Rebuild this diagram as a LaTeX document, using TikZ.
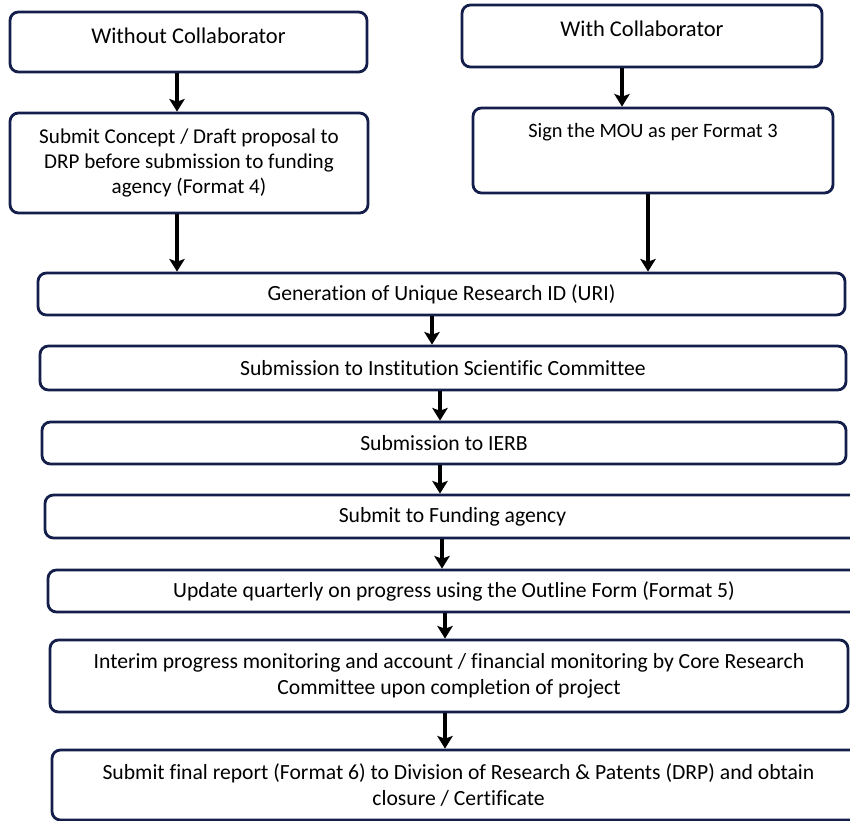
\documentclass[tikz,border=0pt]{standalone}
\usepackage{fontspec}
\setmainfont[Ligatures={NoCommon}]{Carlito}
\usepackage{tikz}
\usetikzlibrary{arrows.meta, positioning}
\definecolor{boxblue}{RGB}{20, 30, 75}
\newcommand{\pu}{0.025cm}

\begin{document}
\begin{tikzpicture}[x=0.025cm, y=-0.025cm, >={Stealth[length=9pt, width=11pt, inset=2pt]},
    box/.style={draw=boxblue, line width=2pt, rounded corners=6pt, fill=white, align=center, inner sep=0pt, font=\fontsize{15.4}{18.5}\selectfont},
    arr/.style={->, line width=2.2pt, black}]
    \clip (0,0) rectangle (850,821);
    \fill[white] (0,0) rectangle (850,821);

    % 两种情况
    \node[box, font=\fontsize{16}{18.5}\selectfont, anchor=base, minimum width=357*\pu, text height=32*\pu, text depth=28*\pu] (wo) at (188.5,44) {Without Collaborator};
    \node[box, font=\fontsize{16}{18.5}\selectfont, anchor=base, minimum width=360*\pu, text height=32*\pu, text depth=30*\pu] (wi) at (642,37) {With Collaborator};
    \node[box, font=\fontsize{15}{18}\selectfont, minimum width=358*\pu, minimum height=100*\pu] (concept) at (189,163)
        {Submit Concept / Draft proposal to\\ DRP before submission to funding\\ agency (Format 4)};
    \node[box, font=\fontsize{14.5}{18}\selectfont, anchor=base, minimum width=360*\pu, text height=30*\pu, text depth=55*\pu] (mou) at (653,138)
        {Sign the MOU as per Format 3};

    % 主流程
    \node[box, minimum width=807*\pu, minimum height=42*\pu] (uri) at (441.5,294) {Generation of Unique Research ID (URI)};
    \node[box, minimum width=806*\pu, minimum height=44*\pu] (isc) at (443,368) {Submission to Institution Scientific Committee};
    \node[box, minimum width=804*\pu, minimum height=42*\pu] (ierb) at (444,443) {Submission to IERB};
    \node[box, minimum width=815*\pu, minimum height=43*\pu] (fund) at (452.5,516.5) {Submit to Funding agency};
    \node[box, minimum width=812*\pu, minimum height=42*\pu] (upd) at (454,591) {Update quarterly on progress using the Outline Form (Format 5)};
    \node[box, minimum width=798*\pu, minimum height=72*\pu] (int) at (449,676)
        {Interim progress monitoring and account / financial monitoring by Core Research\\ Committee upon completion of project};
    \node[box, minimum width=813*\pu, minimum height=70*\pu] (fin) at (458.5,785)
        {Submit final report (Format 6) to Division of Research \& Patents (DRP) and obtain\\ closure / Certificate};

    % 箭头
    \draw[arr] (wo.south -| 177,0) -- (concept.north -| 177,0);
    \draw[arr] (concept.south -| 177,0) -- (uri.north -| 177,0);
    \draw[arr] (wi.south -| 622,0) -- (mou.north -| 622,0);
    \draw[arr] (mou.south -| 648,0) -- (uri.north -| 648,0);
    \foreach \a/\b/\x in {uri/isc/432, isc/ierb/440, ierb/fund/440, fund/upd/442, upd/int/445, int/fin/445}
        \draw[arr] (\a.south -| \x,0) -- (\b.north -| \x,0);

\end{tikzpicture}
\end{document}
